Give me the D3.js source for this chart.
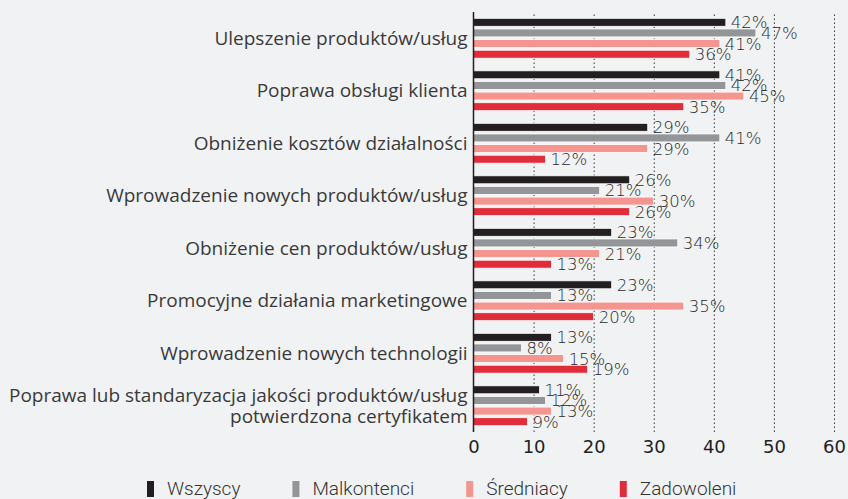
<!DOCTYPE html>
<html>
<head>
<meta charset="utf-8">
<script src="https://cdn.jsdelivr.net/npm/d3@7"></script>
<style>
  html, body { margin: 0; padding: 0; background: #f1f2f4; }
  #canvas { width: 848px; height: 499px; }
</style>
</head>
<body>
<div id="canvas" class="canvas"></div>
<script>
// data
var categories = [
    'Ulepszenie produktów/usług',
    'Poprawa obsługi klienta',
    'Obniżenie kosztów działalności',
    'Wprowadzenie nowych produktów/usług',
    'Obniżenie cen produktów/usług',
    'Promocyjne działania marketingowe',
    'Wprowadzenie nowych technologii',
    'Poprawa lub standaryzacja jakości produktów/usług|potwierdzona certyfikatem'
];
var seriesNames = ['Wszyscy', 'Malkontenci', 'Średniacy', 'Zadowoleni'];
var wszyscy     = [42, 41, 29, 26, 23, 23, 13, 11];
var malkontenci = [47, 42, 41, 21, 34, 13, 8, 12];
var sredniacy   = [41, 45, 29, 30, 21, 35, 15, 13];
var zadowoleni  = [36, 35, 12, 26, 13, 20, 19, 9];
var xTicks = [0, 10, 20, 30, 40, 50, 60];

var seriesValues = [wszyscy, malkontenci, sredniacy, zadowoleni];

var outerWidth = 848, outerHeight = 499;
var m = {t:12, l:473.5};
var w = 834 - m.l,
    h = 432 - m.t;

var svg = d3.select('.canvas')
    .append('svg')
    .attr('width', outerWidth)
    .attr('height', outerHeight);

var plot = svg.append('g')
    .attr('transform', 'translate(' + m.l + ',' + m.t + ')');

//Scales
var scaleX = d3.scaleLinear()
    .domain([0, 60])
    .range([0, w]);
var scaleY = d3.scaleBand()
    .domain(categories)
    .range([0, h])
    .paddingInner(0.2)
    .paddingOuter(0.1);
var scaleSeries = d3.scaleBand()
    .domain(seriesNames)
    .range([0, scaleY.bandwidth()])
    .paddingInner(0.25)
    .paddingOuter(0.1);
var scaleColor = d3.scaleOrdinal()
    .domain(seriesNames)
    .range(['#231f20', '#939598', '#f4958f', '#e12d3a']);

//Grid
var axisX = d3.axisBottom()
    .scale(scaleX)
    .tickValues(xTicks)
    .tickSize(-h)
    .tickFormat(d3.format('d'));

var gx = plot.append('g').attr('class', 'axis axis-x')
    .attr('transform', 'translate(0,' + h + ')')
    .call(axisX);
gx.select('.domain').remove();
gx.selectAll('.tick line')
    .attr('stroke', '#3a3a3a')
    .attr('stroke-width', 1)
    .attr('stroke-dasharray', '1.5,2.5')
    .filter(function(d){ return d === 0; }).remove();
gx.selectAll('.tick text')
    .attr('y', 8)
    .attr('dy', '0.71em')
    .style('font-family', 'DejaVu Sans')
    .style('font-size', '18px')
    .style('fill', '#222');

//Rows
var rows = categories.map(function(c, i){
    return {
        cat: c,
        values: seriesNames.map(function(s, j){
            return {series: s, value: seriesValues[j][i]};
        })
    };
});

var group = plot.selectAll('.group')
    .data(rows)
    .enter()
    .append('g')
    .attr('class', 'group')
    .attr('transform', function(d){ return 'translate(0,' + scaleY(d.cat) + ')'; });

group.selectAll('.bar')
    .data(function(d){ return d.values; })
    .enter()
    .append('rect')
    .attr('class', 'bar')
    .attr('x', 0)
    .attr('y', function(d){ return scaleSeries(d.series); })
    .attr('width', function(d){ return scaleX(d.value); })
    .attr('height', scaleSeries.bandwidth())
    .style('fill', function(d){ return scaleColor(d.series); })
    .style('stroke', '#ffffff')
    .style('stroke-width', '0.8px');

group.selectAll('.value')
    .data(function(d){ return d.values; })
    .enter()
    .append('text')
    .attr('class', 'value')
    .attr('x', function(d){ return scaleX(d.value) + 5; })
    .attr('y', function(d){ return scaleSeries(d.series) + scaleSeries.bandwidth() / 2; })
    .attr('dy', '0.36em')
    .style('font-family', 'DejaVu Sans')
    .style('font-weight', 200)
    .style('font-size', '16.5px')
    .style('fill', '#2a2a2a')
    .text(function(d){ return d.value + '%'; });

//Category labels
var catLabel = group.append('text')
    .attr('class', 'cat')
    .attr('x', -6)
    .attr('y', scaleY.bandwidth() / 2)
    .attr('text-anchor', 'end')
    .style('font-family', 'Open Sans')
    .style('font-size', '19px')
    .style('fill', '#3a3a3a');
catLabel.each(function(d){
    var lines = d.cat.split('|');
    var t = d3.select(this);
    lines.forEach(function(line, k){
        t.append('tspan')
            .attr('x', -6)
            .attr('dy', k === 0 ? (0.35 - (lines.length - 1) * 0.55) + 'em' : '1.1em')
            .text(line);
    });
});

//Axis line
plot.append('line')
    .attr('x1', 0).attr('x2', 0)
    .attr('y1', 0).attr('y2', h)
    .attr('stroke', '#231f20')
    .attr('stroke-width', 1.5);

//Legend
var legend = svg.append('g').attr('class', 'legend')
    .attr('transform', 'translate(147,481)');
var lx = 0;
seriesNames.forEach(function(s){
    var item = legend.append('g').attr('transform', 'translate(' + lx + ',0)');
    item.append('rect')
        .attr('width', 7)
        .attr('height', 16)
        .style('fill', scaleColor(s));
    var t = item.append('text')
        .attr('x', 20)
        .attr('y', 14)
        .style('font-family', 'Roboto')
        .style('font-weight', 300)
        .style('font-size', '19px')
        .style('fill', '#333')
        .text(s);
    lx += 20 + t.node().getComputedTextLength() + 52;
});
</script>
</body>
</html>
